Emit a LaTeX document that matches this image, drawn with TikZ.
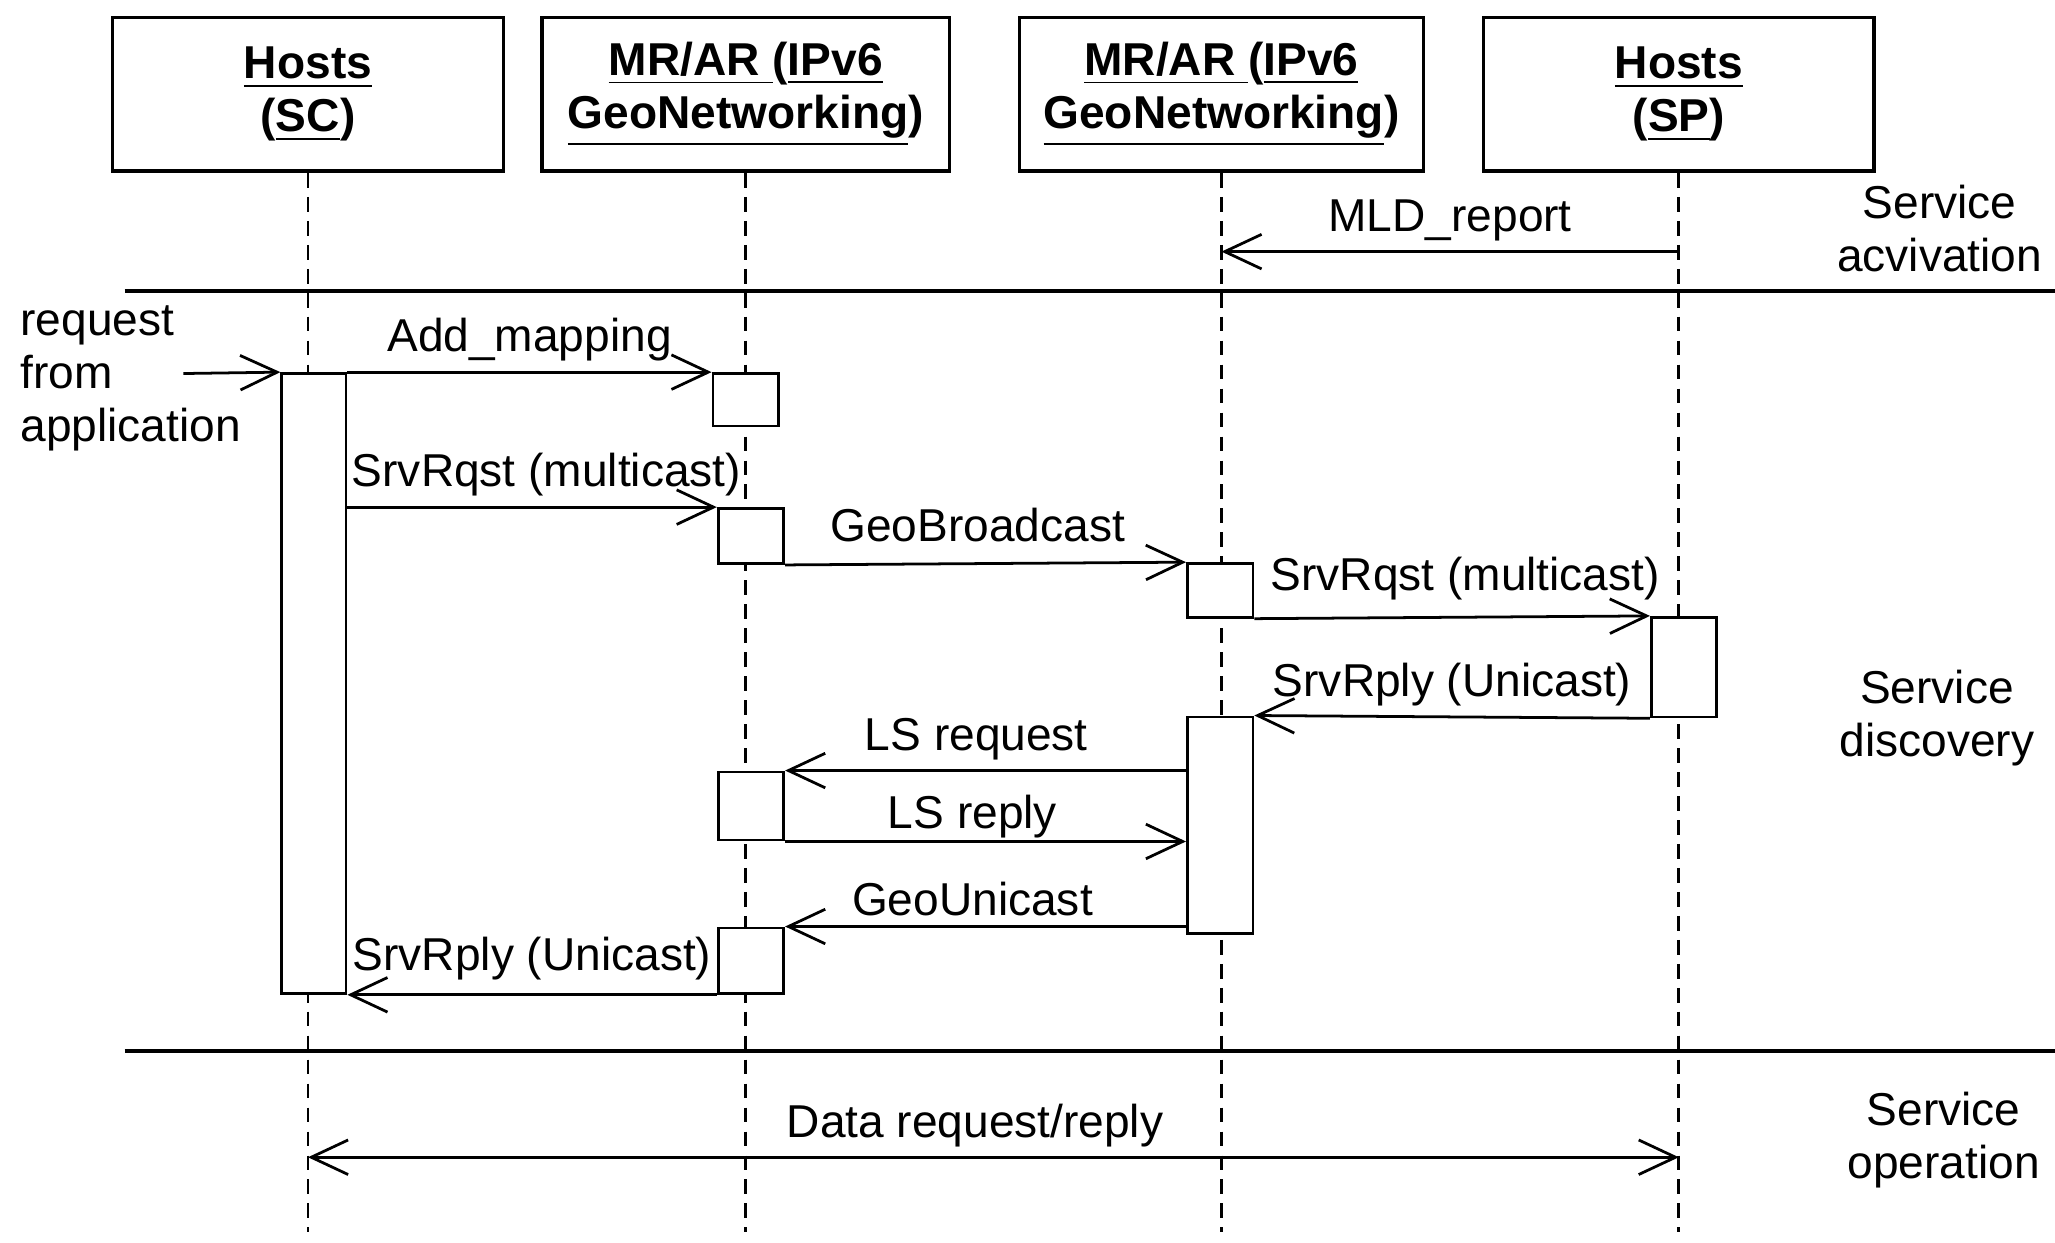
\documentclass[tikz,border=0pt]{standalone}
\usepackage{fontspec}
\setmainfont{Liberation Sans}
\usepackage{tikz}
\usetikzlibrary{arrows.meta,fit}
\tikzset{actor/.style={draw,line width=0.8pt,minimum width=2.98cm,minimum height=1.17cm,align=center,font=\fontsize{10}{11.5}\selectfont\bfseries}}
\tikzset{act/.style={draw,fill=white,line width=0.6pt,inner sep=0pt}}
\tikzset{msg/.style={line width=0.6pt,->}}
\tikzset{life/.style={line width=0.6pt,dash pattern=on 3.2pt off 2pt}}
\tikzset{sep/.style={line width=0.9pt}}
\tikzset{lab/.style={above,inner sep=2pt}}
\tikzset{phase/.style={align=center}}

\begin{document}
\begin{tikzpicture}[x=0.01cm,y=-0.01cm,font=\fontsize{10}{11.5}\selectfont,>={Straight Barb[length=8pt,width=7.5pt]}]
    \useasboundingbox (0,0) rectangle (1568,948);
    \node[actor] (sc) at (235,72) {\underline{Hosts}\\(\underline{SC})};
    \node[actor,minimum width=3.11cm] (mr1) at (569,72) {\underline{MR/AR\ }(\underline{IPv6}\\\underline{GeoNetworking})};
    \node[actor,minimum width=3.08cm] (mr2) at (932,72) {\underline{MR/AR\ }(\underline{IPv6}\\\underline{GeoNetworking})};
    \node[actor] (sp) at (1281,72) {\underline{Hosts}\\(\underline{SP})};
    \coordinate (bot) at (0,940);
    \foreach \n in {sc,mr1,mr2,sp} \draw[life] (\n.south) -- (\n.south |- bot);
    \draw[sep] (95,222) -- (1568,222);
    \draw[sep] (95,802) -- (1568,802);
    \node[phase] (acti) at (1480,174) {Service\\acvivation};
    \node[phase] (disc) at (1478,548) {Service\\discovery};
    \node[phase] (oper) at (1483,870) {Service\\operation};
    \coordinate (mld) at (0,192);
    \draw[msg] (sp.south |- mld) -- node[lab] {MLD\_report} (mr2.south |- mld);
    \node[act,fit={(215,285) (264,758)}] (sca) {};
    \node[act,fit={(544,285) (594,325)}] (mra) {};
    \node[act,fit={(548,388) (598,430)}] (mrb) {};
    \node[act,fit={(906,430) (956,471)}] (mrc) {};
    \node[act,fit={(1260,471) (1310,547)}] (spa) {};
    \node[act,fit={(906,547) (956,712)}] (mrd) {};
    \node[act,fit={(548,589) (598,641)}] (mre) {};
    \node[act,fit={(548,708) (598,758)}] (mrf) {};
    \node[anchor=west,align=left,inner sep=0pt] (req) at (15,289) {request\\from\\application};
    \coordinate (reqin) at (140,285);
    \draw[msg] (reqin) -- (sca.north west);
    \draw[msg] (sca.north east) -- node[lab] {Add\_mapping} (mra.north west);
    \draw[msg] (sca.east |- mrb.north) -- node[lab,xshift=0.11cm] {SrvRqst (multicast)} (mrb.north west);
    \draw[msg] (mrb.south east) -- node[lab,yshift=2.3pt,xshift=-0.06cm] {GeoBroadcast} (mrc.north west);
    \draw[msg] (mrc.south east) -- node[lab,yshift=1.4pt,xshift=0.1cm] {SrvRqst (multicast)} (spa.north west);
    \draw[msg] (spa.south west) -- node[lab] {SrvRply (Unicast)} (mrd.north east);
    \draw[msg] (mrd.west |- mre.north) -- node[lab,xshift=-0.07cm] {LS request} (mre.north east);
    \draw[msg] (mre.south east) -- node[lab,inner sep=0.5pt,xshift=-0.1cm] {LS reply} (mrd.west |- mre.south);
    \draw[msg] (mrd.west |- mrf.north) -- node[lab,xshift=-0.1cm] {GeoUnicast} (mrf.north east);
    \draw[msg] (mrf.south west) -- node[lab,inner sep=3pt] {SrvRply (Unicast)} (sca.south east);
    \coordinate (dat) at (0,883);
    \draw[msg,<->] (sc.south |- dat) -- node[lab,xshift=-0.14cm] {Data request/reply} (sp.south |- dat);
\end{tikzpicture}
\end{document}
